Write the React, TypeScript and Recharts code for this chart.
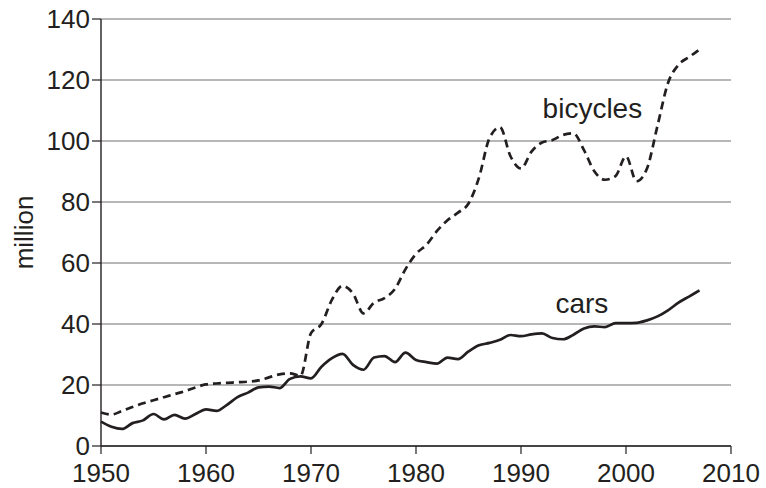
import React from "react";
import { LineChart, Line, XAxis, YAxis, CartesianGrid, ReferenceDot } from "recharts";

// years 1950..2007, values in million
const years = [
  1950, 1951, 1952, 1953, 1954, 1955, 1956, 1957, 1958, 1959,
  1960, 1961, 1962, 1963, 1964, 1965, 1966, 1967, 1968, 1969,
  1970, 1971, 1972, 1973, 1974, 1975, 1976, 1977, 1978, 1979,
  1980, 1981, 1982, 1983, 1984, 1985, 1986, 1987, 1988, 1989,
  1990, 1991, 1992, 1993, 1994, 1995, 1996, 1997, 1998, 1999,
  2000, 2001, 2002, 2003, 2004, 2005, 2006, 2007,
];

const bicycles = [
  11, 10.3, 11.5, 12.8, 14, 15, 16, 17, 18, 19.2,
  20.2, 20.5, 20.7, 20.9, 21.1, 21.5, 22.5, 23.5, 23.8, 23,
  37, 40, 48, 52.5, 50, 43.5, 47, 48.5, 51.5, 58,
  63, 66, 70.5, 74, 76.5, 79.5, 88, 101, 104.5, 95,
  91, 96.5, 99.5, 100.3, 102, 102.5, 97, 90, 87.3, 88.5,
  95, 86.8, 91, 105, 119, 125, 127.5, 130,
];

const cars = [
  8, 6.3, 5.6, 7.5, 8.4, 10.5, 8.7, 10.2, 9, 10.5,
  12, 11.5, 13.5, 16, 17.5, 19.2, 19.5, 19, 22, 22.8,
  22.2, 26, 28.8, 30.2, 26.6, 25, 29, 29.5, 27.5, 30.6,
  28.2, 27.5, 27, 29, 28.5, 31, 33, 33.8, 34.8, 36.4,
  36, 36.6, 36.9, 35.4, 35, 36.5, 38.5, 39.2, 39, 40.3,
  40.3, 40.4, 41.2, 42.5, 44.5, 47, 49, 51,
];

const xTicks = [1950, 1960, 1970, 1980, 1990, 2000, 2010];
const yTicks = [0, 20, 40, 60, 80, 100, 120, 140];

const INK = "#231f20";
const FONT = "'Liberation Sans', Arial, Helvetica, sans-serif";

export default function App() {
  const data = years.map((y, i) => ({ year: y, bicycles: bicycles[i], cars: cars[i] }));
  const tickStyle = { fill: INK, fontSize: 26, fontFamily: FONT };

  return (
    <div style={{ position: "absolute", left: 0, top: 0, width: 766, height: 488, background: "#fff" }}>
      <LineChart width={766} height={488} data={data} margin={{ top: 19, right: 35, bottom: 0, left: 0 }}>
        <CartesianGrid vertical={false} stroke="#707070" strokeWidth={1.2} />
        <XAxis
          dataKey="year"
          type="number"
          domain={[1950, 2010]}
          ticks={xTicks}
          height={42}
          tickSize={8}
          tickMargin={10}
          axisLine={{ stroke: INK, strokeWidth: 1.4 }}
          tickLine={{ stroke: INK, strokeWidth: 1.2 }}
          tick={tickStyle}
          interval={0}
        />
        <YAxis
          type="number"
          domain={[0, 140]}
          ticks={yTicks}
          width={101}
          tickSize={9}
          tickMargin={2}
          axisLine={{ stroke: INK, strokeWidth: 1.4 }}
          tickLine={{ stroke: INK, strokeWidth: 1.2 }}
          tick={tickStyle}
          interval={0}
          label={{
            value: "million",
            angle: -90,
            position: "insideLeft",
            offset: 24,
            style: { textAnchor: "middle", fill: INK, fontSize: 26, fontFamily: FONT },
          }}
        />
        <Line
          type="monotone"
          dataKey="bicycles"
          stroke={INK}
          strokeWidth={2.7}
          strokeDasharray="8 5"
          dot={false}
          isAnimationActive={false}
        />
        <Line
          type="monotone"
          dataKey="cars"
          stroke={INK}
          strokeWidth={2.7}
          dot={false}
          isAnimationActive={false}
        />
        <ReferenceDot
          x={1996.8}
          y={110.8}
          r={0}
          fill="none"
          stroke="none"
          label={{ value: "bicycles", position: "center", fill: INK, fontSize: 28, fontFamily: FONT }}
        />
        <ReferenceDot
          x={1995.8}
          y={46.9}
          r={0}
          fill="none"
          stroke="none"
          label={{ value: "cars", position: "center", fill: INK, fontSize: 28, fontFamily: FONT }}
        />
      </LineChart>
    </div>
  );
}
